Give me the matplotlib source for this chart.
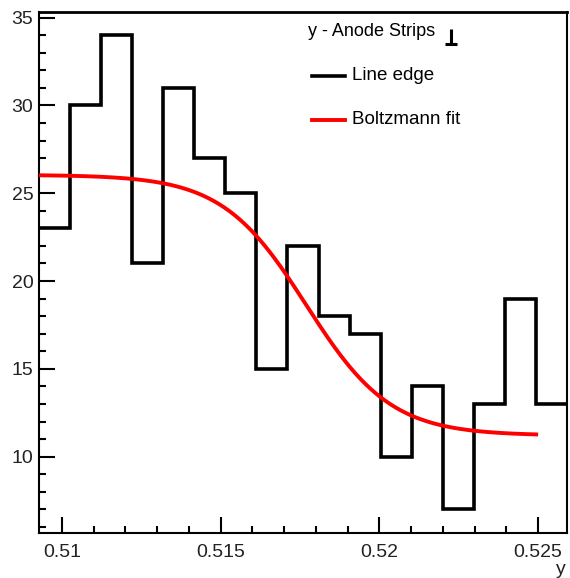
import numpy as np
import matplotlib
matplotlib.use("Agg")
import matplotlib.pyplot as plt
from matplotlib.ticker import MultipleLocator, FixedLocator

plt.rcParams['font.family'] = ['Liberation Sans', 'DejaVu Sans']

# Histogram of line-edge positions (y, anode strips)
x_low, x_high, n_bins = 0.50928, 0.52591, 17
counts = [23, 30, 34, 21, 31, 27, 25, 15, 22, 18, 17, 10, 14, 7, 13, 19, 13]

# Boltzmann fit parameters: A2 + (A1 - A2) / (1 + exp((x - x0) / dx))
A1, A2, x0, dx = 26.05, 11.2, 0.5177, 0.00133
fit_end = 0.525

y_lo, y_hi = 5.65, 35.35
x_major = [0.51, 0.515, 0.52, 0.525]
x_major_labels = ["0.51", "0.515", "0.52", "0.525"]
y_major = [10, 15, 20, 25, 30, 35]

W, H = 570, 578
fig = plt.figure(figsize=(W / 100, H / 100), dpi=100)
ax = fig.add_axes([39 / W, (H - 533) / H, 528 / W, (533 - 11.5) / H])

edges = np.linspace(x_low, x_high, n_bins + 1)
ax.stairs(counts, edges, baseline=None, color='black', lw=2.6, zorder=3)

xf = np.linspace(x_low, fit_end, 400)
yf = A2 + (A1 - A2) / (1 + np.exp((xf - x0) / dx))
ax.plot(xf, yf, color='#ff0000', lw=2.8, zorder=4, solid_capstyle='butt')

ax.set_xlim(x_low, x_high)
ax.set_ylim(y_lo, y_hi)

ax.xaxis.set_major_locator(FixedLocator(x_major))
ax.set_xticklabels(x_major_labels)
ax.xaxis.set_minor_locator(FixedLocator(np.arange(0.510, 0.5255, 0.001)))
ax.yaxis.set_major_locator(FixedLocator(y_major))
ax.yaxis.set_minor_locator(MultipleLocator(1))

ax.tick_params(which='both', direction='in', top=False, right=False,
               width=1.5, colors='black', labelsize=14, labelcolor='#222222')
ax.tick_params(which='major', length=11.3)
ax.tick_params(which='minor', length=5.3)
ax.tick_params(axis='x', pad=8)
ax.tick_params(axis='y', pad=4)

for s in ['left', 'bottom', 'right']:
    ax.spines[s].set_linewidth(1.5)
ax.spines['top'].set_linewidth(2.0)


# Text and legend drawn in figure pixel coordinates
def fx(px):
    return px / W


def fy(py):
    return 1 - py / H


# x-axis title, right-aligned below the tick labels
fig.text(fx(566), fy(569), 'y', fontsize=14, va='center', ha='right', color='#222222')

fig.text(fx(308), fy(32), 'y - Anode Strips', fontsize=13, va='center', ha='left')
fig.add_artist(plt.Line2D([fx(445), fx(457)], [fy(44), fy(44)], color='black', lw=2.2,
                          solid_capstyle='butt'))
fig.add_artist(plt.Line2D([fx(451), fx(451)], [fy(29), fy(44)], color='black', lw=2.2,
                          solid_capstyle='butt'))

fig.add_artist(plt.Line2D([fx(312), fx(345)], [fy(75.5), fy(75.5)], color='black', lw=2.6))
fig.text(fx(352), fy(75), 'Line edge', fontsize=13.5, va='center', ha='left')
fig.add_artist(plt.Line2D([fx(312), fx(345)], [fy(119.5), fy(119.5)], color='#ff0000', lw=2.8))
fig.text(fx(352), fy(120), 'Boltzmann fit', fontsize=13.5, va='center', ha='left')

fig.savefig('out.png', dpi=100)
